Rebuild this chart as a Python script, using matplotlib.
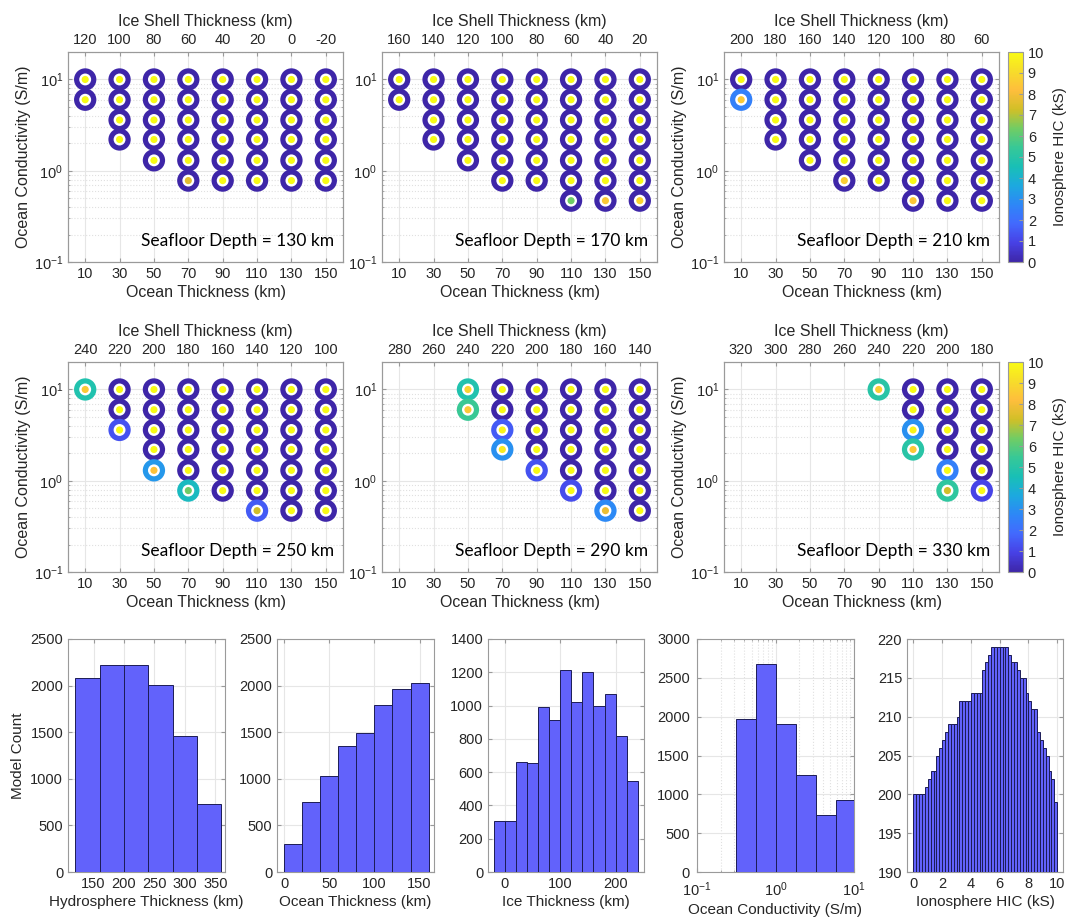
import numpy as np
import matplotlib
matplotlib.use("Agg")
import matplotlib.pyplot as plt
from matplotlib.colors import LinearSegmentedColormap, Normalize
from matplotlib.cm import ScalarMappable

plt.rcParams['font.family'] = ['Liberation Sans', 'DejaVu Sans']
plt.rcParams['axes.edgecolor'] = '#9a9a9a'
plt.rcParams['xtick.color'] = '#9a9a9a'
plt.rcParams['ytick.color'] = '#9a9a9a'
plt.rcParams['xtick.labelcolor'] = '#262626'
plt.rcParams['ytick.labelcolor'] = '#262626'
plt.rcParams['axes.labelcolor'] = '#262626'

# ---- data: scatter panels ----
ocean = np.array([10, 30, 50, 70, 90, 110, 130, 150])        # km
cond = np.array([10, 6, 3.6, 2.2, 1.3, 0.78, 0.47])         # S/m
depths = [130, 170, 210, 250, 290, 330]
n = np.nan

# rows = conductivity (top to bottom), cols = ocean thickness; HIC in kS
outer_130 = [[0, 0, 0, 0, 0, 0, 0, 0],
             [0, 0, 0, 0, 0, 0, 0, 0],
             [n, 0, 0, 0, 0, 0, 0, 0],
             [n, 0, 0, 0, 0, 0, 0, 0],
             [n, n, 0, 0, 0, 0, 0, 0],
             [n, n, n, 0, 0, 0, 0, 0],
             [n, n, n, n, n, n, n, n]]
inner_130 = [[10, 10, 10, 10, 10, 10, 10, 10],
             [10, 10, 10, 10, 10, 10, 10, 10],
             [n, 10, 10, 10, 10, 10, 10, 10],
             [n, 10, 10, 10, 10, 10, 10, 10],
             [n, n, 10, 10, 10, 10, 10, 10],
             [n, n, n, 7.6, 10, 10, 10, 10],
             [n, n, n, n, n, n, n, n]]

outer_170 = [[0, 0, 0, 0, 0, 0, 0, 0],
             [0, 0, 0, 0, 0, 0, 0, 0],
             [n, 0, 0, 0, 0, 0, 0, 0],
             [n, 0, 0, 0, 0, 0, 0, 0],
             [n, n, 0, 0, 0, 0, 0, 0],
             [n, n, n, 0, 0, 0, 0, 0],
             [n, n, n, n, n, 0, 0, 0]]
inner_170 = [[10, 10, 10, 10, 10, 10, 10, 10],
             [10, 10, 10, 10, 10, 10, 10, 10],
             [n, 10, 10, 10, 10, 10, 10, 10],
             [n, 10, 10, 10, 10, 10, 10, 10],
             [n, n, 10, 10, 10, 10, 10, 10],
             [n, n, n, 10, 10, 10, 10, 10],
             [n, n, n, n, n, 6.3, 8.5, 8.8]]

outer_210 = [[0, 0, 0, 0, 0, 0, 0, 0],
             [2.5, 0, 0, 0, 0, 0, 0, 0],
             [n, 0, 0, 0, 0, 0, 0, 0],
             [n, 0, 0, 0, 0, 0, 0, 0],
             [n, n, 0, 0, 0, 0, 0, 0],
             [n, n, n, 0, 0, 0, 0, 0],
             [n, n, n, n, n, 0, 0, 0]]
inner_210 = [[10, 10, 10, 10, 10, 10, 10, 10],
             [8.5, 10, 10, 10, 10, 10, 10, 10],
             [n, 10, 10, 10, 10, 10, 10, 10],
             [n, 10, 10, 10, 10, 10, 10, 10],
             [n, n, 10, 10, 10, 10, 10, 10],
             [n, n, n, 8.6, 10, 10, 10, 10],
             [n, n, n, n, n, 8.4, 10, 10]]

outer_250 = [[4.8, 0, 0, 0, 0, 0, 0, 0],
             [n, 0, 0, 0, 0, 0, 0, 0],
             [n, 1.3, 0, 0, 0, 0, 0, 0],
             [n, n, 0, 0, 0, 0, 0, 0],
             [n, n, 3.2, 0, 0, 0, 0, 0],
             [n, n, n, 4.3, 0, 0, 0, 0],
             [n, n, n, n, n, 1.5, 0, 0]]
inner_250 = [[8.5, 10, 10, 10, 10, 10, 10, 10],
             [n, 10, 10, 10, 10, 10, 10, 10],
             [n, 10, 10, 10, 10, 10, 10, 10],
             [n, n, 10, 10, 10, 10, 10, 10],
             [n, n, 8.3, 10, 10, 10, 10, 10],
             [n, n, n, 6.3, 10, 10, 10, 10],
             [n, n, n, n, n, 7.3, 10, 10]]

outer_290 = [[n, n, 4.8, 0, 0, 0, 0, 0],
             [n, n, 5.5, 0, 0, 0, 0, 0],
             [n, n, n, 1.5, 0, 0, 0, 0],
             [n, n, n, 3.0, 0, 0, 0, 0],
             [n, n, n, n, 1.3, 0, 0, 0],
             [n, n, n, n, n, 1.2, 0, 0],
             [n, n, n, n, n, n, 2.8, 0]]
inner_290 = [[n, n, 8.8, 10, 10, 10, 10, 10],
             [n, n, 8.5, 10, 10, 10, 10, 10],
             [n, n, n, 9.8, 10, 10, 10, 10],
             [n, n, n, 9.5, 10, 10, 10, 10],
             [n, n, n, n, 10, 10, 10, 10],
             [n, n, n, n, n, 10, 10, 10],
             [n, n, n, n, n, n, 7.8, 10]]

outer_330 = [[n, n, n, n, 5.0, 0, 0, 0],
             [n, n, n, n, n, 0, 0, 0],
             [n, n, n, n, n, 3.0, 0, 0],
             [n, n, n, n, n, 5.0, 0, 0],
             [n, n, n, n, n, n, 2.5, 0],
             [n, n, n, n, n, n, 5.2, 1.0],
             [n, n, n, n, n, n, n, n]]
inner_330 = [[n, n, n, n, 8.6, 10, 10, 10],
             [n, n, n, n, n, 10, 10, 10],
             [n, n, n, n, n, 9.8, 10, 10],
             [n, n, n, n, n, 8.5, 10, 10],
             [n, n, n, n, n, n, 10, 10],
             [n, n, n, n, n, n, 7.3, 10],
             [n, n, n, n, n, n, n, n]]

outers = [outer_130, outer_170, outer_210, outer_250, outer_290, outer_330]
inners = [inner_130, inner_170, inner_210, inner_250, inner_290, inner_330]

# ---- data: histograms ----
hydro_edges = [120, 160, 200, 240, 280, 320, 360]
hydro_counts = [2080, 2225, 2220, 2010, 1455, 730]
ocean_edges = [0, 20, 40, 60, 80, 100, 120, 140, 160]
ocean_counts = [304, 755, 1034, 1348, 1491, 1788, 1960, 2025]
ice_edges = [-20, 0, 20, 40, 60, 80, 100, 120, 140, 160, 180, 200, 220, 240]
ice_counts = [305, 305, 660, 655, 990, 915, 1215, 1020, 1200, 995, 1070, 815, 548]
cond_edges = [0.316, 0.569, 1.02, 1.84, 3.31, 5.96, 10.7]
cond_counts = [1966, 2682, 1910, 1253, 738, 927]
hic_edges = np.linspace(0, 10, 51)
hic_counts = [200, 200, 200, 200, 201, 202, 203, 203, 205, 206,
              207, 208, 209, 209, 209, 210, 212, 212, 212, 212,
              213, 213, 213, 213, 216, 217, 218, 219, 219, 219,
              219, 219, 219, 218, 217, 217, 216, 215, 215, 213,
              212, 211, 211, 208, 207, 206, 205, 203, 202, 199]

# parula-like colormap
parula = LinearSegmentedColormap.from_list('parula', [
    (0.2422, 0.1504, 0.6603), (0.2783, 0.2559, 0.8991), (0.2602, 0.4123, 0.9952),
    (0.1786, 0.5289, 0.9682), (0.1113, 0.6635, 0.8763), (0.0964, 0.7500, 0.7120),
    (0.2161, 0.7843, 0.5923), (0.4456, 0.8024, 0.3909), (0.8203, 0.7498, 0.1535),
    (0.9956, 0.7434, 0.2371), (0.9676, 0.8639, 0.1643), (0.9769, 0.9839, 0.0805)])
norm = Normalize(0, 10)

W, H = 1080, 921
fig = plt.figure(figsize=(W / 100, H / 100), dpi=100)


def px_axes(left, top, right, bottom):
    return fig.add_axes([left / W, 1 - bottom / H, (right - left) / W, (bottom - top) / H])


def box_ticks(ax):
    ax.tick_params(which='both', direction='in', top=True, right=True,
                   labelsize=10.5, length=3)
    ax.tick_params(which='minor', length=1.5)


panel_lefts = [68, 382, 724]
row_tops = [52, 362]
X, Y = np.meshgrid(ocean, cond)
for i, depth in enumerate(depths):
    r, c = divmod(i, 3)
    left = panel_lefts[c]
    top = row_tops[r]
    ax = px_axes(left, top, left + 275, top + 210)
    o = np.array(outers[i], float)
    inn = np.array(inners[i], float)
    m = ~np.isnan(o)
    ax.scatter(X[m], Y[m], s=258, c=o[m], cmap=parula, norm=norm, linewidths=0, zorder=3)
    ax.scatter(X[m], Y[m], s=47, c=inn[m], cmap=parula, norm=norm,
               edgecolors='white', linewidths=1.7, zorder=4)
    ax.set_yscale('log')
    ax.set_ylim(0.1, 20)
    ax.set_xlim(0, 160)
    ax.set_xticks(ocean)
    ax.set_yticks([0.1, 1, 10])
    ax.grid(True, which='major', color='#e6e6e6', lw=0.8)
    ax.grid(True, which='minor', axis='y', color='#e0e0e0', ls=':', lw=0.8)
    ax.set_axisbelow(True)
    box_ticks(ax)
    ax.tick_params(top=False)
    ax.set_xlabel('Ocean Thickness (km)', fontsize=11.5, labelpad=3)
    if c != 1:
        ax.set_ylabel('Ocean Conductivity (S/m)', fontsize=11.5, labelpad=2)
    ax.text(0.968, 0.1, f'Seafloor Depth = {depth} km', transform=ax.transAxes,
            ha='right', va='center', fontsize=12.5, family=['Lato', 'DejaVu Sans'],
            color='black', zorder=5)
    ax_top = ax.twiny()
    ax_top.set_xlim(0, 160)
    ax_top.set_xticks(ocean)
    ax_top.set_xticklabels([str(depth - v) for v in ocean])
    ax_top.tick_params(direction='in', labelsize=10.5, length=3)
    ax_top.set_xlabel('Ice Shell Thickness (km)', fontsize=11.5, labelpad=5)
    if c == 2:
        cax = px_axes(1008, top, 1023, top + 210)
        cb = fig.colorbar(ScalarMappable(norm=norm, cmap=parula), cax=cax)
        cb.set_ticks(range(0, 11))
        cb.ax.tick_params(direction='in', labelsize=10.5, length=3)
        cb.outline.set_edgecolor('#9a9a9a')
        cb.set_label('Ionosphere HIC (kS)', fontsize=11, labelpad=6)

# ---- histograms ----
hist_specs = [
    (68, 225, hydro_edges, hydro_counts, 'Hydrosphere Thickness (km)', (108, 366),
     [150, 200, 250, 300, 350], (0, 2500), 500, False),
    (277, 434, ocean_edges, ocean_counts, 'Ocean Thickness (km)', (-8, 166),
     [0, 50, 100, 150], (0, 2500), 500, False),
    (488, 644, ice_edges, ice_counts, 'Ice Thickness (km)', (-30, 251),
     [0, 100, 200], (0, 1400), 200, False),
    (697, 854, cond_edges, cond_counts, 'Ocean Conductivity (S/m)', (0.1, 10),
     [0.1, 1, 10], (0, 3000), 500, True),
    (907, 1063, hic_edges, hic_counts, 'Ionosphere HIC (kS)', (-0.45, 10.4),
     [0, 2, 4, 6, 8, 10], (190, 220), 5, False),
]
for j, (l, rgt, edges, counts, xlabel, xlim, xt, ylim, ystep, logx) in enumerate(hist_specs):
    ax = px_axes(l, 639, rgt, 872)
    edges = np.asarray(edges, float)
    ax.hist(edges[:-1], bins=edges, weights=counts, color='#6262fb',
            edgecolor='#1c1c55', linewidth=0.7, alpha=1.0, zorder=3)
    if logx:
        ax.set_xscale('log')
        ax.grid(True, which='minor', axis='x', color='#e0e0e0', ls=':', lw=0.8)
    ax.set_xlim(*xlim)
    ax.set_xticks(xt)
    ax.set_ylim(*ylim)
    ax.set_yticks(np.arange(ylim[0], ylim[1] + 1, ystep))
    ax.grid(True, which='major', color='#e6e6e6', lw=0.8)
    ax.set_axisbelow(True)
    box_ticks(ax)
    if logx:
        ax.tick_params(axis='x', pad=6)
        ax.tick_params(axis='y', pad=5)
    ax.set_xlabel(xlabel, fontsize=11, labelpad=3)
    if j == 0:
        ax.set_ylabel('Model Count', fontsize=11, labelpad=4)

fig.savefig('out.png', dpi=100, facecolor='white')
